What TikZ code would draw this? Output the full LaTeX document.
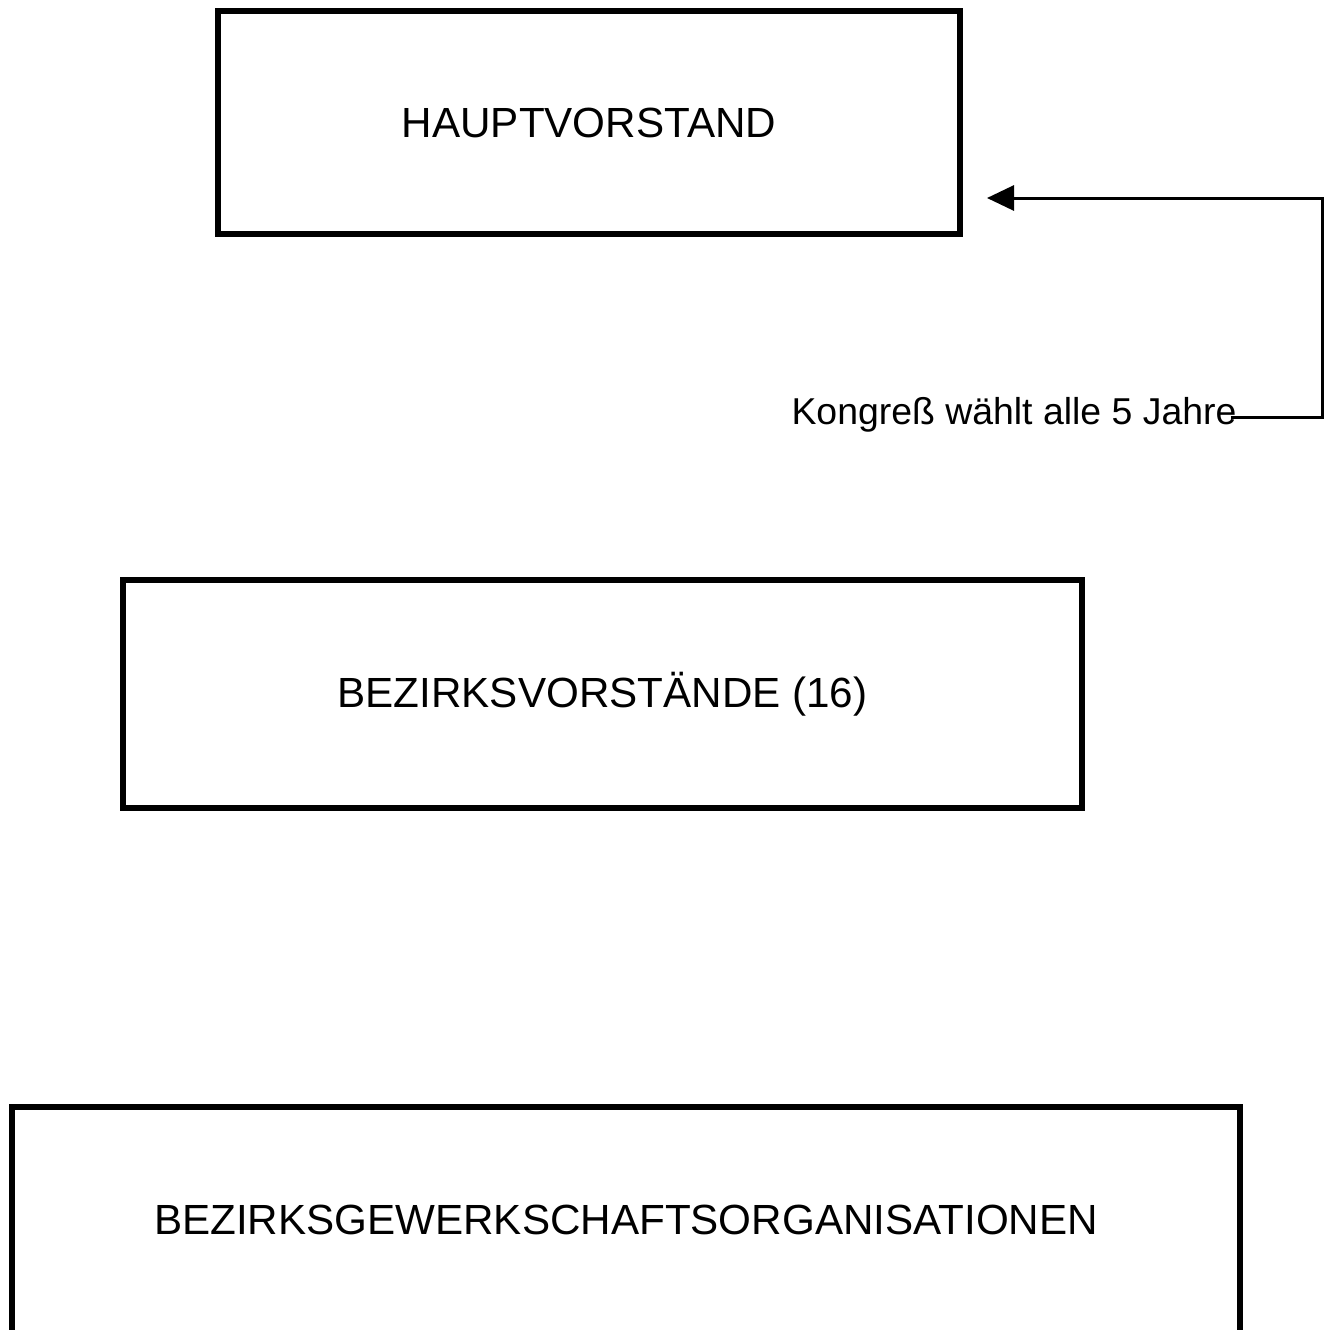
\documentclass[tikz,border=0pt]{standalone}
\usepackage{fontspec}
\setmainfont{Liberation Sans}
\usetikzlibrary{arrows.meta}

\begin{document}
\begin{tikzpicture}[x=0.025cm, y=-0.025cm,
    orgbox/.style={draw, line width=4.27pt, inner sep=0pt,
                   font=\fontsize{30}{36}\selectfont},
    note/.style={inner sep=0pt, font=\fontsize{26.6}{32}\selectfont}]
\useasboundingbox (0,0) rectangle (1327,1330);
% the three levels
\node[orgbox, minimum width=18.55cm, minimum height=5.575cm] (hv) at (589,122.5) {HAUPTVORSTAND};
\node[orgbox, minimum width=23.975cm, minimum height=5.7cm] (bv) at (602.5,694) {BEZIRKSVORST\"ANDE (16)};
\node[orgbox, minimum width=30.7cm, minimum height=5.65cm] (bgo) at (626,1220) {BEZIRKSGEWERKSCHAFTSORGANISATIONEN};
% election note
\node[note, anchor=base] (kongress) at (1014,424) {Kongre\ss{} w\"ahlt alle 5 Jahre};
\coordinate (bendlow) at (1322,417);
\coordinate (bendhigh) at (1322,198);
\coordinate (tip) at (987,198);
\begin{scope}[>={Triangle[length=0.675cm, width=0.625cm]}]
    \draw[->, line width=2.13pt] (kongress.base east) ++(-6,-7) -- (bendlow) -- (bendhigh) -- (tip);
\end{scope}
\end{tikzpicture}
\end{document}
